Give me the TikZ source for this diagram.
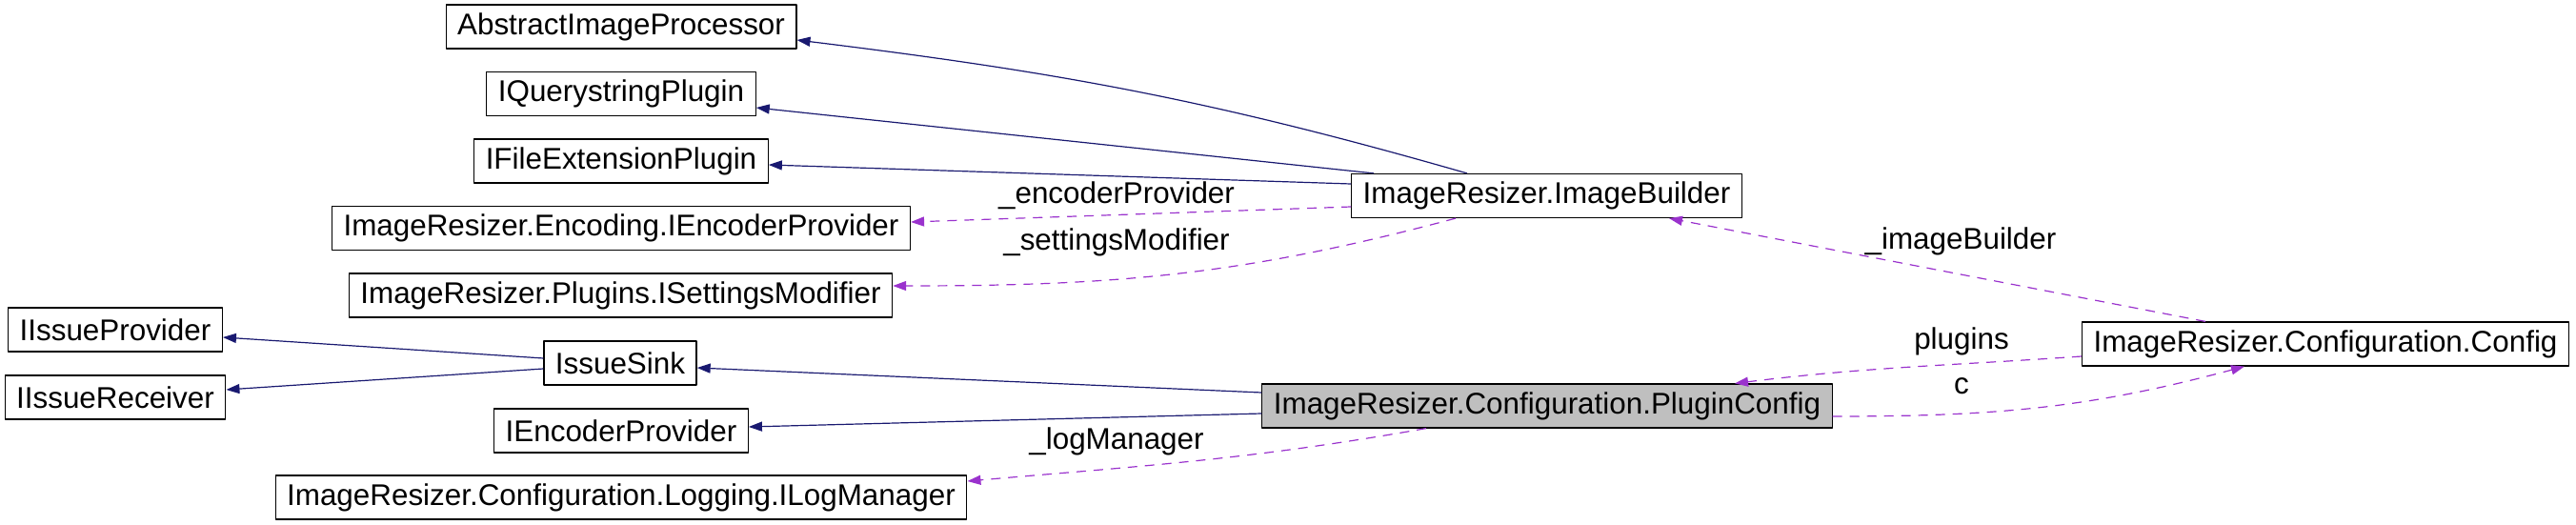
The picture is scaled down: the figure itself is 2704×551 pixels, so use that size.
\documentclass[tikz,border=0pt]{standalone}
\usepackage{fontspec}
\setmainfont{Liberation Sans}
\usetikzlibrary{arrows.meta}
\definecolor{edgeblue}{HTML}{191970}
\definecolor{edgepurple}{HTML}{9A32CD}
\tikzset{
	cls/.style={draw=black, line width=0.6pt, minimum height=23pt, inner xsep=6pt, inner ysep=0pt},
	focus/.style={cls, fill=black!25},
	inherit/.style={edgeblue, line width=0.6pt, ->},
	usage/.style={edgepurple, line width=0.6pt, dash pattern=on 5pt off 4pt, ->},
	lbl/.style={inner sep=0pt}
}
\begin{document}
\begin{tikzpicture}[x=0.5pt, y=-0.5pt, font=\fontsize{15.7}{18}\selectfont, line join=round, >={Triangle[length=7pt,width=5pt]}]
		\useasboundingbox (0,0) rectangle (2704,551);
		% classes
		\node[cls] (aip) at (652,28) {AbstractImageProcessor};
		\node[cls] (iqp) at (652,98.5) {IQuerystringPlugin};
		\node[cls] (ifp) at (652,169) {IFileExtensionPlugin};
		\node[cls] (iencp) at (652,239.5) {ImageResizer.Encoding.IEncoderProvider};
		\node[cls] (ism) at (651.5,310) {ImageResizer.Plugins.ISettingsModifier};
		\node[cls] (ip) at (121,346) {IIssueProvider};
		\node[cls] (ir) at (121,417) {IIssueReceiver};
		\node[cls] (sink) at (651,381) {IssueSink};
		\node[cls] (iep) at (652,452) {IEncoderProvider};
		\node[cls] (ilm) at (652,522) {ImageResizer.Configuration.Logging.ILogManager};
		\node[cls] (ib) at (1623.5,205.5) {ImageResizer.ImageBuilder};
		\node[focus] (pc) at (1624,426) {ImageResizer.Configuration.PluginConfig};
		\node[cls] (cfg) at (2441,361) {ImageResizer.Configuration.Config};
		
		% inheritance
		\draw[inherit] ([xshift=-41.75pt]ib.north) to[out=164,in=-7] ([yshift=-7pt]aip.east);
		\draw[inherit] ([xshift=-90.75pt]ib.north) -- ([yshift=-7.25pt]iqp.east);
		\draw[inherit] ([yshift=6.25pt]ib.west) -- ([yshift=-2pt]ifp.east);
		\draw[inherit] ([yshift=2.5pt]sink.west) -- ([yshift=-4pt]ip.east);
		\draw[inherit] ([yshift=-3pt]sink.west) -- ([yshift=4pt]ir.east);
		\draw[inherit] ([yshift=7pt]pc.west) -- ([yshift=-2.5pt]sink.east);
		\draw[inherit] ([yshift=-4pt]pc.west) -- ([yshift=2pt]iep.east);
		
		% usage
		\draw[usage] ([yshift=-5.75pt]ib.west) -- ([yshift=3.25pt]iencp.east);
		\draw[usage] ([xshift=-47.75pt]ib.south) to[out=195,in=0] ([yshift=5pt]ism.east);
		\draw[usage] ([xshift=-63.5pt]pc.south) to[out=190,in=5] ([yshift=8.5pt]ilm.east);
		\draw[usage] ([xshift=-63pt]cfg.north) -- ([xshift=64.25pt]ib.south);
		\draw[usage] ([yshift=-6.5pt]cfg.west) to[out=184,in=7] ([xshift=98.5pt]pc.north);
		\draw[usage] ([yshift=-5.5pt]pc.east) to[out=0,in=195] ([xshift=-42.5pt]cfg.south);
		
		% labels
		\node[lbl] (l-enc) at (1172,205) {\_encoderProvider};
		\node[lbl] (l-set) at (1172,254) {\_settingsModifier};
		\node[lbl] (l-log) at (1172,463) {\_logManager};
		\node[lbl] (l-ib) at (2058,253) {\_imageBuilder};
		\node[lbl] (l-plug) at (2059,358) {plugins};
		\node[lbl] (l-c) at (2059,405) {c};
		
	\end{tikzpicture}
\end{document}
